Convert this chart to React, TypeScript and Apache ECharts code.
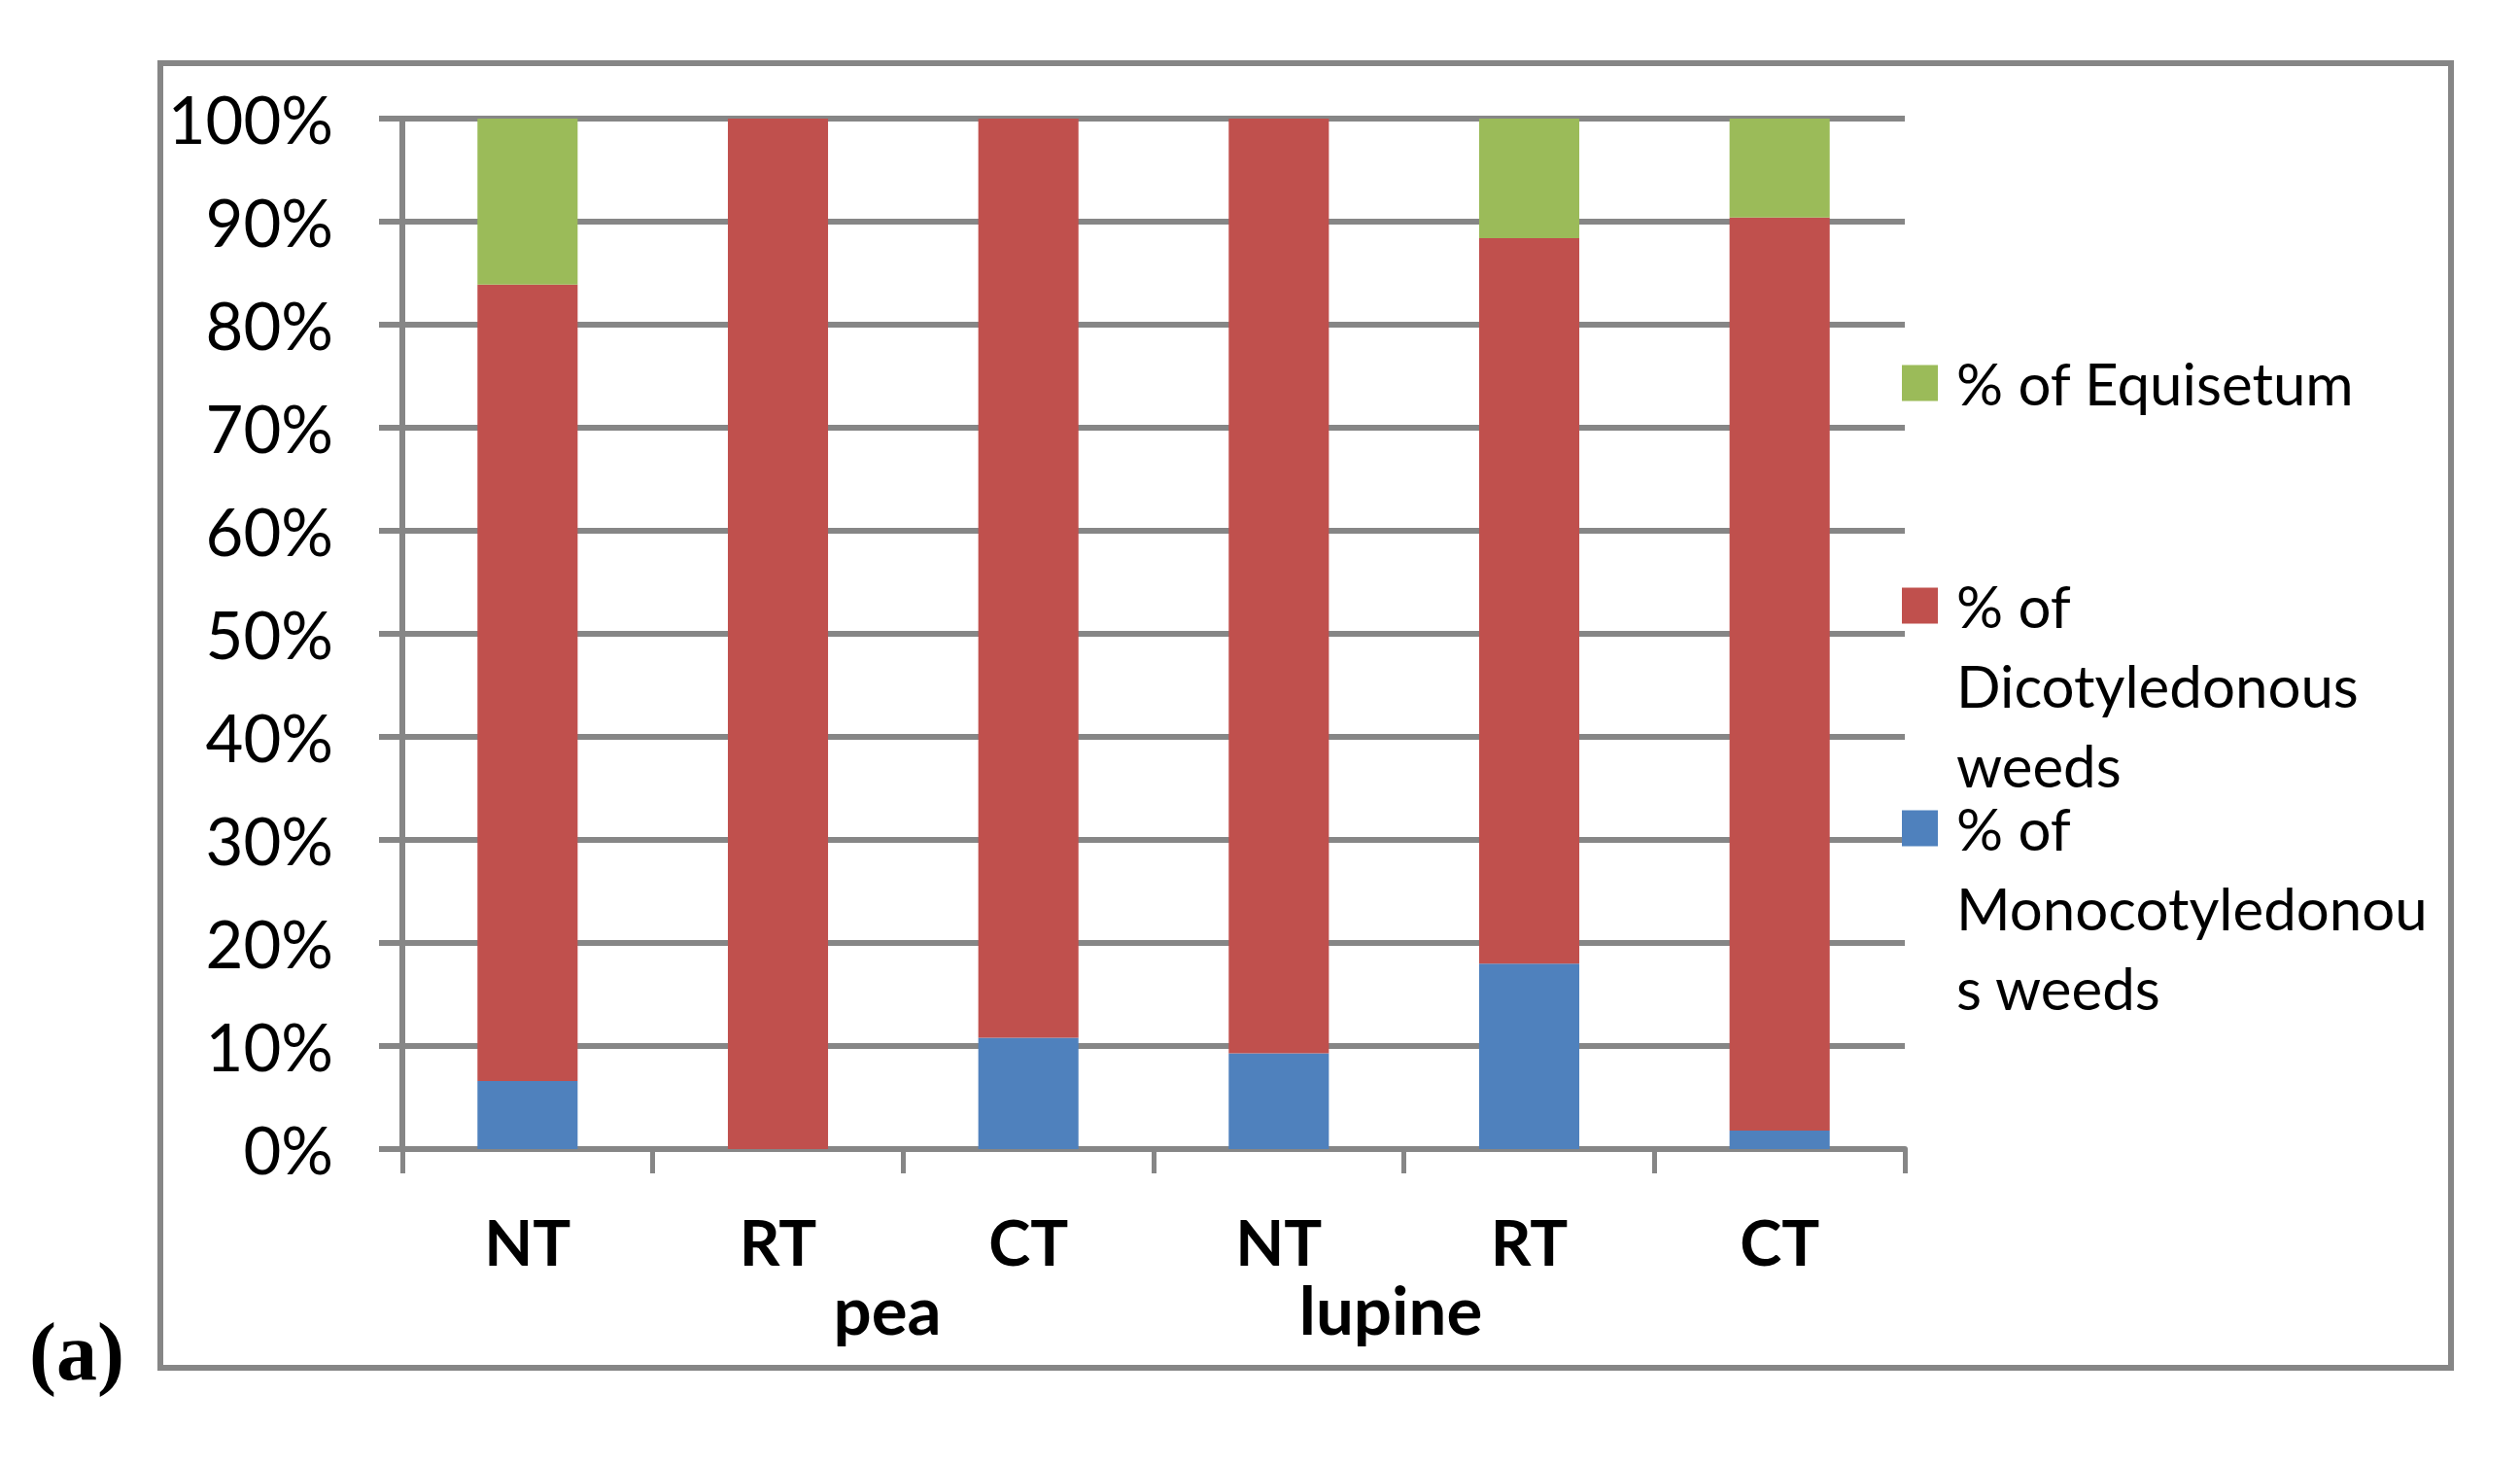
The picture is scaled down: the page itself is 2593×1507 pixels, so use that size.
import React, { useEffect, useRef } from "react";
import * as echarts from "echarts";

const categories = ["NT", "RT", "CT", "NT", "RT", "CT"];
const groupLabels = ["pea", "lupine"];
const monoValues = [6.6, 0, 10.8, 9.3, 18.0, 1.8];
const dicotValues = [77.3, 100, 89.2, 90.7, 70.4, 88.6];
const equisetumValues = [16.1, 0, 0, 0, 11.6, 9.6];
const seriesNames = [
  "% of Monocotyledonous weeds",
  "% of Dicotyledonous weeds",
  "% of Equisetum",
];
const legendLabels = [
  "% of\nMonocotyledonou\ns weeds",
  "% of\nDicotyledonous\nweeds",
  "% of Equisetum",
];
const seriesColors = ["#4F81BD", "#C0504D", "#9BBB59"];
const panelLabel = "(a)";

export default function App() {
  const ref = useRef<HTMLDivElement>(null);
  useEffect(() => {
    const chart = echarts.init(ref.current!, null, { renderer: "svg" });
    const FONT = "Lato";
    const GRAY = "#868686";
    const LINE = 82;
    const iconCenters = [852, 623, 394];
    const seriesData = [monoValues, dicotValues, equisetumValues];

    const legends = seriesNames.map((name, i) => {
      const n = legendLabels[i].split("\n").length;
      const boxH = Math.max(37, (2 * n - 1) * LINE);
      const text = "\n".repeat(n - 1) + legendLabels[i];
      return {
        show: true,
        orient: "vertical",
        left: 1957,
        top: iconCenters[i] - boxH / 2,
        padding: 0,
        itemWidth: 37,
        itemHeight: 37,
        icon: "rect",
        selectedMode: false,
        data: [name],
        formatter: () => text,
        textStyle: {
          fontFamily: FONT,
          fontSize: 60,
          lineHeight: LINE,
          color: "#000",
          padding: [0, 0, 0, 14],
        },
      };
    });

    chart.setOption({
      animation: false,
      backgroundColor: "#ffffff",
      grid: { left: 414, top: 122, width: 1546, height: 1060 },
      xAxis: {
        type: "category",
        data: categories,
        axisLine: { show: true, lineStyle: { color: GRAY, width: 6 } },
        axisTick: {
          show: true,
          length: 25,
          interval: 0,
          alignWithLabel: false,
          lineStyle: { color: GRAY, width: 5 },
        },
        axisLabel: {
          interval: 0,
          margin: 62,
          fontFamily: FONT,
          fontWeight: "bold",
          fontSize: 65,
          lineHeight: 65,
          color: "#000",
        },
        splitLine: { show: false },
      },
      yAxis: {
        type: "value",
        min: 0,
        max: 100,
        interval: 10,
        axisLine: { show: true, lineStyle: { color: GRAY, width: 6 } },
        axisTick: { show: true, length: 24, lineStyle: { color: GRAY, width: 6 } },
        axisLabel: {
          formatter: "{value}%",
          margin: 71,
          fontFamily: FONT,
          fontSize: 67,
          color: "#000",
        },
        splitLine: { show: true, lineStyle: { color: GRAY, width: 6 } },
      },
      legend: legends,
      series: seriesNames.map((name, i) => ({
        name,
        type: "bar",
        stack: "total",
        barWidth: "40%",
        data: seriesData[i],
        itemStyle: { color: seriesColors[i] },
      })),
      graphic: [
        {
          type: "rect",
          silent: true,
          shape: { x: 165, y: 65, width: 2357, height: 1342 },
          style: { fill: "none", stroke: GRAY, lineWidth: 6 },
        },
        {
          type: "text",
          x: 30,
          y: 1390,
          style: {
            text: panelLabel,
            font: 'bold 84px "Liberation Serif"',
            fill: "#000",
            verticalAlign: "middle",
            align: "left",
          },
        },
        {
          type: "text",
          x: 913,
          y: 1346,
          style: {
            text: groupLabels[0],
            font: `bold 69px ${FONT}`,
            fill: "#000",
            verticalAlign: "middle",
            align: "center",
          },
        },
        {
          type: "text",
          x: 1431,
          y: 1346,
          style: {
            text: groupLabels[1],
            font: `bold 69px ${FONT}`,
            fill: "#000",
            verticalAlign: "middle",
            align: "center",
          },
        },
      ],
    });
    return () => chart.dispose();
  }, []);
  return (
    <div
      ref={ref}
      style={{ position: "fixed", left: 0, top: 0, width: 2593, height: 1507 }}
    />
  );
}
